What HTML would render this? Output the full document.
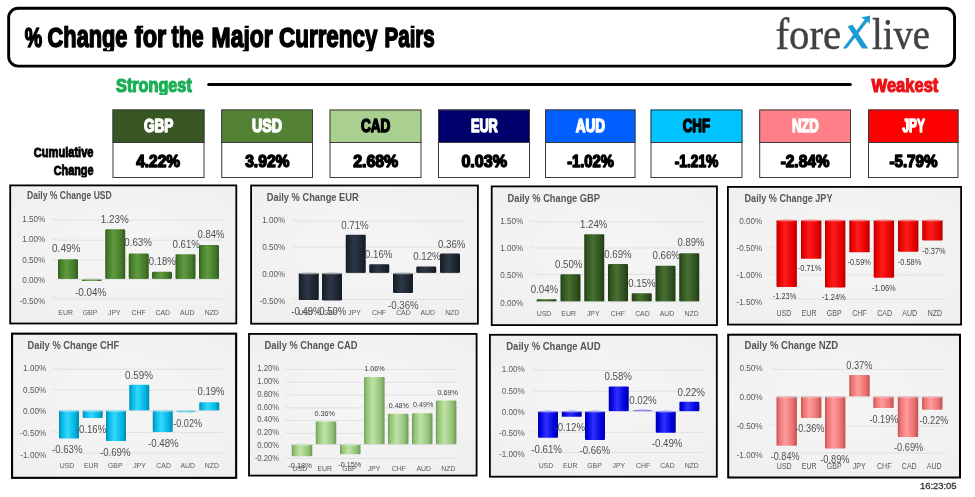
<!DOCTYPE html>
<html><head><meta charset="utf-8"><title>% Change for the Major Currency Pairs</title>
<style>html,body{margin:0;padding:0;background:#fff;}body{width:975px;height:497px;overflow:hidden;font-family:"Liberation Sans",sans-serif;}svg{display:block;}</style></head>
<body>
<svg width="975" height="497" viewBox="0 0 975 497">
<defs><linearGradient id="gUSD" x1="0" y1="0" x2="1" y2="0"><stop offset="0" stop-color="#2f5a1d"/><stop offset="0.12" stop-color="#447a2a"/><stop offset="0.42" stop-color="#5f9a3f"/><stop offset="0.8" stop-color="#447a2a"/><stop offset="1" stop-color="#2f5a1d"/></linearGradient><linearGradient id="gEUR" x1="0" y1="0" x2="1" y2="0"><stop offset="0" stop-color="#141a23"/><stop offset="0.12" stop-color="#1c2430"/><stop offset="0.42" stop-color="#2d3746"/><stop offset="0.8" stop-color="#1c2430"/><stop offset="1" stop-color="#141a23"/></linearGradient><linearGradient id="gGBP" x1="0" y1="0" x2="1" y2="0"><stop offset="0" stop-color="#1f3814"/><stop offset="0.12" stop-color="#2f5220"/><stop offset="0.42" stop-color="#47702f"/><stop offset="0.8" stop-color="#2f5220"/><stop offset="1" stop-color="#1f3814"/></linearGradient><linearGradient id="gJPY" x1="0" y1="0" x2="1" y2="0"><stop offset="0" stop-color="#b40000"/><stop offset="0.12" stop-color="#e60000"/><stop offset="0.42" stop-color="#ff1c1c"/><stop offset="0.8" stop-color="#e60000"/><stop offset="1" stop-color="#b40000"/></linearGradient><linearGradient id="gCHF" x1="0" y1="0" x2="1" y2="0"><stop offset="0" stop-color="#0089ad"/><stop offset="0.12" stop-color="#00b4e0"/><stop offset="0.42" stop-color="#35d8ff"/><stop offset="0.8" stop-color="#00b4e0"/><stop offset="1" stop-color="#0089ad"/></linearGradient><linearGradient id="gCAD" x1="0" y1="0" x2="1" y2="0"><stop offset="0" stop-color="#6e9a55"/><stop offset="0.12" stop-color="#93c277"/><stop offset="0.42" stop-color="#bfe3a6"/><stop offset="0.8" stop-color="#93c277"/><stop offset="1" stop-color="#6e9a55"/></linearGradient><linearGradient id="gAUD" x1="0" y1="0" x2="1" y2="0"><stop offset="0" stop-color="#0000a0"/><stop offset="0.12" stop-color="#0000e0"/><stop offset="0.42" stop-color="#3030ff"/><stop offset="0.8" stop-color="#0000e0"/><stop offset="1" stop-color="#0000a0"/></linearGradient><linearGradient id="gNZD" x1="0" y1="0" x2="1" y2="0"><stop offset="0" stop-color="#c05050"/><stop offset="0.12" stop-color="#ea7070"/><stop offset="0.42" stop-color="#ff9c9c"/><stop offset="0.8" stop-color="#ea7070"/><stop offset="1" stop-color="#c05050"/></linearGradient><radialGradient id="pbg" cx="0.5" cy="0.45" r="0.75"><stop offset="0" stop-color="#f5f5f5"/><stop offset="0.6" stop-color="#f2f2f2"/><stop offset="1" stop-color="#eeeeee"/></radialGradient><filter id="soft" x="0" y="0" width="975" height="497" filterUnits="userSpaceOnUse" color-interpolation-filters="sRGB"><feGaussianBlur stdDeviation="0.42"/></filter><clipPath id="ic1"><rect x="0" y="25.70" width="975" height="25.57"/></clipPath><clipPath id="ic2"><rect x="0" y="77.90" width="975" height="16.64"/></clipPath><clipPath id="ic3"><rect x="0" y="77.90" width="975" height="16.64"/></clipPath><clipPath id="ic4"><rect x="0" y="146.80" width="975" height="12.88"/></clipPath><clipPath id="ic5"><rect x="0" y="164.30" width="975" height="12.88"/></clipPath><clipPath id="ic6"><rect x="0" y="117.90" width="975" height="17.11"/></clipPath><clipPath id="ic7"><rect x="0" y="153.30" width="975" height="16.76"/></clipPath><clipPath id="ic8"><rect x="0" y="117.90" width="975" height="17.11"/></clipPath><clipPath id="ic9"><rect x="0" y="153.30" width="975" height="16.76"/></clipPath><clipPath id="ic10"><rect x="0" y="117.90" width="975" height="17.11"/></clipPath><clipPath id="ic11"><rect x="0" y="153.30" width="975" height="16.76"/></clipPath><clipPath id="ic12"><rect x="0" y="117.90" width="975" height="17.11"/></clipPath><clipPath id="ic13"><rect x="0" y="153.30" width="975" height="16.76"/></clipPath><clipPath id="ic14"><rect x="0" y="117.90" width="975" height="17.11"/></clipPath><clipPath id="ic15"><rect x="0" y="153.30" width="975" height="16.76"/></clipPath><clipPath id="ic16"><rect x="0" y="117.90" width="975" height="17.11"/></clipPath><clipPath id="ic17"><rect x="0" y="153.30" width="975" height="16.76"/></clipPath><clipPath id="ic18"><rect x="0" y="117.90" width="975" height="17.11"/></clipPath><clipPath id="ic19"><rect x="0" y="153.30" width="975" height="16.76"/></clipPath><clipPath id="ic20"><rect x="0" y="117.90" width="975" height="17.11"/></clipPath><clipPath id="ic21"><rect x="0" y="153.30" width="975" height="16.76"/></clipPath></defs>
<rect width="975" height="497" fill="#fff"/>
<g filter="url(#soft)">
<rect x="8.65" y="8.3" width="945.9" height="57.8" rx="9.5" ry="9.5" fill="#fff" stroke="#000" stroke-width="2.9"/>
<g clip-path="url(#ic1)">
<text x="24.80" y="46.80" font-family="Liberation Sans, sans-serif" font-weight="700" font-size="28.12" textLength="17.40" lengthAdjust="spacingAndGlyphs" fill="#000" stroke="#000" stroke-width="1.6" stroke-linejoin="round" paint-order="stroke">%</text>
<text x="47.60" y="46.80" font-family="Liberation Sans, sans-serif" font-weight="700" font-size="28.12" textLength="15.74" lengthAdjust="spacingAndGlyphs" fill="#000" stroke="#000" stroke-width="1.6" stroke-linejoin="round" paint-order="stroke">C</text>
<text x="63.34" y="46.80" font-family="Liberation Sans, sans-serif" font-weight="700" font-size="31.17" textLength="64.16" lengthAdjust="spacingAndGlyphs" fill="#000" stroke="#000" stroke-width="1.6" stroke-linejoin="round" paint-order="stroke">hange</text>
<text x="134.80" y="46.80" font-family="Liberation Sans, sans-serif" font-weight="700" font-size="31.17" textLength="31.50" lengthAdjust="spacingAndGlyphs" fill="#000" stroke="#000" stroke-width="1.6" stroke-linejoin="round" paint-order="stroke">for</text>
<text x="171.50" y="46.80" font-family="Liberation Sans, sans-serif" font-weight="700" font-size="31.17" textLength="32.10" lengthAdjust="spacingAndGlyphs" fill="#000" stroke="#000" stroke-width="1.6" stroke-linejoin="round" paint-order="stroke">the</text>
<text x="211.60" y="46.80" font-family="Liberation Sans, sans-serif" font-weight="700" font-size="28.12" textLength="19.08" lengthAdjust="spacingAndGlyphs" fill="#000" stroke="#000" stroke-width="1.6" stroke-linejoin="round" paint-order="stroke">M</text>
<text x="230.68" y="46.80" font-family="Liberation Sans, sans-serif" font-weight="700" font-size="31.17" textLength="42.02" lengthAdjust="spacingAndGlyphs" fill="#000" stroke="#000" stroke-width="1.6" stroke-linejoin="round" paint-order="stroke">ajor</text>
<text x="279.10" y="46.80" font-family="Liberation Sans, sans-serif" font-weight="700" font-size="28.12" textLength="16.17" lengthAdjust="spacingAndGlyphs" fill="#000" stroke="#000" stroke-width="1.6" stroke-linejoin="round" paint-order="stroke">C</text>
<text x="295.27" y="46.80" font-family="Liberation Sans, sans-serif" font-weight="700" font-size="31.17" textLength="82.13" lengthAdjust="spacingAndGlyphs" fill="#000" stroke="#000" stroke-width="1.6" stroke-linejoin="round" paint-order="stroke">urrency</text>
<text x="384.50" y="46.80" font-family="Liberation Sans, sans-serif" font-weight="700" font-size="28.12" textLength="13.72" lengthAdjust="spacingAndGlyphs" fill="#000" stroke="#000" stroke-width="1.6" stroke-linejoin="round" paint-order="stroke">P</text>
<text x="398.22" y="46.80" font-family="Liberation Sans, sans-serif" font-weight="700" font-size="31.17" textLength="36.58" lengthAdjust="spacingAndGlyphs" fill="#000" stroke="#000" stroke-width="1.6" stroke-linejoin="round" paint-order="stroke">airs</text>
</g>
<text x="775.40" y="48.80" font-family="Liberation Serif, serif" font-size="44.60" textLength="65.80" lengthAdjust="spacingAndGlyphs" fill="#414042" stroke="#414042" stroke-width="0.45" stroke-linejoin="round" paint-order="stroke">fore</text>
<text x="872.00" y="48.80" font-family="Liberation Serif, serif" font-size="44.60" textLength="58.00" lengthAdjust="spacingAndGlyphs" fill="#414042" stroke="#414042" stroke-width="0.45" stroke-linejoin="round" paint-order="stroke">live</text>
<g fill="#1b9ad6" stroke="none"><path d="M847.6 26.2 L852.6 24.8 L868.2 48.6 L862.0 48.6 Z"/><path d="M842.8 48.6 L846.6 48.6 L868.3 20.6 L865.6 18.4 Z"/><path d="M861.0 17.6 L870.2 15.6 L869.6 24.2 L866.6 20.6 Z"/></g>
<g clip-path="url(#ic2)">
<text x="116.10" y="91.60" font-family="Liberation Sans, sans-serif" font-weight="700" font-size="17.68" textLength="10.82" lengthAdjust="spacingAndGlyphs" fill="#1aaf54" stroke="#1aaf54" stroke-width="1.2" stroke-linejoin="round" paint-order="stroke">S</text>
<text x="126.92" y="91.60" font-family="Liberation Sans, sans-serif" font-weight="700" font-size="19.55" textLength="64.88" lengthAdjust="spacingAndGlyphs" fill="#1aaf54" stroke="#1aaf54" stroke-width="1.2" stroke-linejoin="round" paint-order="stroke">trongest</text>
</g>
<g clip-path="url(#ic3)">
<text x="871.40" y="91.60" font-family="Liberation Sans, sans-serif" font-weight="700" font-size="17.68" textLength="15.56" lengthAdjust="spacingAndGlyphs" fill="#ec1218" stroke="#ec1218" stroke-width="1.2" stroke-linejoin="round" paint-order="stroke">W</text>
<text x="886.96" y="91.60" font-family="Liberation Sans, sans-serif" font-weight="700" font-size="19.55" textLength="51.34" lengthAdjust="spacingAndGlyphs" fill="#ec1218" stroke="#ec1218" stroke-width="1.2" stroke-linejoin="round" paint-order="stroke">eakest</text>
</g>
<rect x="207.2" y="82.9" width="644.6" height="3.0" rx="1.5" fill="#000"/>
<g clip-path="url(#ic4)">
<text x="33.75" y="157.40" font-family="Liberation Sans, sans-serif" font-weight="700" font-size="13.33" textLength="8.01" lengthAdjust="spacingAndGlyphs" fill="#000" stroke="#000" stroke-width="1.0" stroke-linejoin="round" paint-order="stroke">C</text>
<text x="41.76" y="157.40" font-family="Liberation Sans, sans-serif" font-weight="700" font-size="14.72" textLength="51.74" lengthAdjust="spacingAndGlyphs" fill="#000" stroke="#000" stroke-width="1.0" stroke-linejoin="round" paint-order="stroke">umulative</text>
</g>
<g clip-path="url(#ic5)">
<text x="53.75" y="174.90" font-family="Liberation Sans, sans-serif" font-weight="700" font-size="13.33" textLength="7.83" lengthAdjust="spacingAndGlyphs" fill="#000" stroke="#000" stroke-width="1.0" stroke-linejoin="round" paint-order="stroke">C</text>
<text x="61.58" y="174.90" font-family="Liberation Sans, sans-serif" font-weight="700" font-size="14.72" textLength="31.92" lengthAdjust="spacingAndGlyphs" fill="#000" stroke="#000" stroke-width="1.0" stroke-linejoin="round" paint-order="stroke">hange</text>
</g>
<rect x="112.50" y="109.5" width="92.00" height="68.5" fill="#fff"/>
<rect x="112.50" y="109.5" width="92.00" height="33" fill="#375623"/>
<rect x="113.00" y="110" width="91.00" height="67.5" fill="none" stroke="#3a3a3a" stroke-width="1"/>
<rect x="112.50" y="142" width="92.00" height="1" fill="#3a3a3a"/>
<g clip-path="url(#ic6)">
<text x="143.90" y="131.85" font-family="Liberation Sans, sans-serif" font-weight="700" font-size="17.83" textLength="29.40" lengthAdjust="spacingAndGlyphs" fill="#fff" stroke="#fff" stroke-width="1.5" stroke-linejoin="round" paint-order="stroke">GBP</text>
</g>
<g clip-path="url(#ic7)">
<text x="136.15" y="166.95" font-family="Liberation Sans, sans-serif" font-weight="700" font-size="17.39" textLength="43.90" lengthAdjust="spacingAndGlyphs" fill="#000" stroke="#000" stroke-width="1.5" stroke-linejoin="round" paint-order="stroke">4.22%</text>
</g>
<rect x="221.25" y="109.5" width="91.75" height="68.5" fill="#fff"/>
<rect x="221.25" y="109.5" width="91.75" height="33" fill="#548235"/>
<rect x="221.75" y="110" width="90.75" height="67.5" fill="none" stroke="#3a3a3a" stroke-width="1"/>
<rect x="221.25" y="142" width="91.75" height="1" fill="#3a3a3a"/>
<g clip-path="url(#ic8)">
<text x="251.90" y="131.85" font-family="Liberation Sans, sans-serif" font-weight="700" font-size="17.83" textLength="30.15" lengthAdjust="spacingAndGlyphs" fill="#fff" stroke="#fff" stroke-width="1.5" stroke-linejoin="round" paint-order="stroke">USD</text>
</g>
<g clip-path="url(#ic9)">
<text x="245.15" y="166.95" font-family="Liberation Sans, sans-serif" font-weight="700" font-size="17.39" textLength="44.40" lengthAdjust="spacingAndGlyphs" fill="#000" stroke="#000" stroke-width="1.5" stroke-linejoin="round" paint-order="stroke">3.92%</text>
</g>
<rect x="329.50" y="109.5" width="92.00" height="68.5" fill="#fff"/>
<rect x="329.50" y="109.5" width="92.00" height="33" fill="#a9d08e"/>
<rect x="330.00" y="110" width="91.00" height="67.5" fill="none" stroke="#3a3a3a" stroke-width="1"/>
<rect x="329.50" y="142" width="92.00" height="1" fill="#3a3a3a"/>
<g clip-path="url(#ic10)">
<text x="360.90" y="131.85" font-family="Liberation Sans, sans-serif" font-weight="700" font-size="17.83" textLength="29.40" lengthAdjust="spacingAndGlyphs" fill="#000" stroke="#000" stroke-width="1.5" stroke-linejoin="round" paint-order="stroke">CAD</text>
</g>
<g clip-path="url(#ic11)">
<text x="353.15" y="166.95" font-family="Liberation Sans, sans-serif" font-weight="700" font-size="17.39" textLength="45.15" lengthAdjust="spacingAndGlyphs" fill="#000" stroke="#000" stroke-width="1.5" stroke-linejoin="round" paint-order="stroke">2.68%</text>
</g>
<rect x="438.00" y="109.5" width="92.00" height="68.5" fill="#fff"/>
<rect x="438.00" y="109.5" width="92.00" height="33" fill="#00006c"/>
<rect x="438.50" y="110" width="91.00" height="67.5" fill="none" stroke="#3a3a3a" stroke-width="1"/>
<rect x="438.00" y="142" width="92.00" height="1" fill="#3a3a3a"/>
<g clip-path="url(#ic12)">
<text x="470.90" y="131.85" font-family="Liberation Sans, sans-serif" font-weight="700" font-size="17.83" textLength="26.90" lengthAdjust="spacingAndGlyphs" fill="#fff" stroke="#fff" stroke-width="1.5" stroke-linejoin="round" paint-order="stroke">EUR</text>
</g>
<g clip-path="url(#ic13)">
<text x="461.40" y="166.95" font-family="Liberation Sans, sans-serif" font-weight="700" font-size="17.39" textLength="45.65" lengthAdjust="spacingAndGlyphs" fill="#000" stroke="#000" stroke-width="1.5" stroke-linejoin="round" paint-order="stroke">0.03%</text>
</g>
<rect x="545.00" y="109.5" width="90.50" height="68.5" fill="#fff"/>
<rect x="545.00" y="109.5" width="90.50" height="33" fill="#0060ff"/>
<rect x="545.50" y="110" width="89.50" height="67.5" fill="none" stroke="#3a3a3a" stroke-width="1"/>
<rect x="545.00" y="142" width="90.50" height="1" fill="#3a3a3a"/>
<g clip-path="url(#ic14)">
<text x="575.65" y="131.85" font-family="Liberation Sans, sans-serif" font-weight="700" font-size="17.83" textLength="29.40" lengthAdjust="spacingAndGlyphs" fill="#fff" stroke="#fff" stroke-width="1.5" stroke-linejoin="round" paint-order="stroke">AUD</text>
</g>
<g clip-path="url(#ic15)">
<text x="567.15" y="166.95" font-family="Liberation Sans, sans-serif" font-weight="700" font-size="17.39" textLength="46.65" lengthAdjust="spacingAndGlyphs" fill="#000" stroke="#000" stroke-width="1.5" stroke-linejoin="round" paint-order="stroke">-1.02%</text>
</g>
<rect x="650.50" y="109.5" width="92.00" height="68.5" fill="#fff"/>
<rect x="650.50" y="109.5" width="92.00" height="33" fill="#00c4ff"/>
<rect x="651.00" y="110" width="91.00" height="67.5" fill="none" stroke="#3a3a3a" stroke-width="1"/>
<rect x="650.50" y="142" width="92.00" height="1" fill="#3a3a3a"/>
<g clip-path="url(#ic16)">
<text x="682.65" y="131.85" font-family="Liberation Sans, sans-serif" font-weight="700" font-size="17.83" textLength="27.40" lengthAdjust="spacingAndGlyphs" fill="#000" stroke="#000" stroke-width="1.5" stroke-linejoin="round" paint-order="stroke">CHF</text>
</g>
<g clip-path="url(#ic17)">
<text x="674.65" y="166.95" font-family="Liberation Sans, sans-serif" font-weight="700" font-size="17.39" textLength="43.65" lengthAdjust="spacingAndGlyphs" fill="#000" stroke="#000" stroke-width="1.5" stroke-linejoin="round" paint-order="stroke">-1.21%</text>
</g>
<rect x="759.20" y="109.5" width="91.80" height="68.5" fill="#fff"/>
<rect x="759.20" y="109.5" width="91.80" height="33" fill="#ff8088"/>
<rect x="759.70" y="110" width="90.80" height="67.5" fill="none" stroke="#3a3a3a" stroke-width="1"/>
<rect x="759.20" y="142" width="91.80" height="1" fill="#3a3a3a"/>
<g clip-path="url(#ic18)">
<text x="791.90" y="131.85" font-family="Liberation Sans, sans-serif" font-weight="700" font-size="17.83" textLength="26.90" lengthAdjust="spacingAndGlyphs" fill="#fff" stroke="#fff" stroke-width="1.5" stroke-linejoin="round" paint-order="stroke">NZD</text>
</g>
<g clip-path="url(#ic19)">
<text x="780.65" y="166.95" font-family="Liberation Sans, sans-serif" font-weight="700" font-size="17.39" textLength="48.90" lengthAdjust="spacingAndGlyphs" fill="#000" stroke="#000" stroke-width="1.5" stroke-linejoin="round" paint-order="stroke">-2.84%</text>
</g>
<rect x="868.00" y="109.5" width="90.50" height="68.5" fill="#fff"/>
<rect x="868.00" y="109.5" width="90.50" height="33" fill="#ff0000"/>
<rect x="868.50" y="110" width="89.50" height="67.5" fill="none" stroke="#3a3a3a" stroke-width="1"/>
<rect x="868.00" y="142" width="90.50" height="1" fill="#3a3a3a"/>
<g clip-path="url(#ic20)">
<text x="902.40" y="131.85" font-family="Liberation Sans, sans-serif" font-weight="700" font-size="17.83" textLength="22.40" lengthAdjust="spacingAndGlyphs" fill="#fff" stroke="#fff" stroke-width="1.5" stroke-linejoin="round" paint-order="stroke">JPY</text>
</g>
<g clip-path="url(#ic21)">
<text x="889.40" y="166.95" font-family="Liberation Sans, sans-serif" font-weight="700" font-size="17.39" textLength="48.15" lengthAdjust="spacingAndGlyphs" fill="#000" stroke="#000" stroke-width="1.5" stroke-linejoin="round" paint-order="stroke">-5.79%</text>
</g>
<rect x="10.20" y="185.40" width="226.10" height="138.10" fill="url(#pbg)" stroke="#000" stroke-width="1.8"/>
<text x="27.00" y="199.30" font-family="Liberation Sans, sans-serif" font-size="10.58" font-weight="700" textLength="84.75" lengthAdjust="spacingAndGlyphs" fill="#555555">Daily % Change USD</text>
<path d="M52.0 218.40 L57.0 220.00 L222.0 220.00" fill="none" stroke="#dfdfdf" stroke-width="0.9"/>
<path d="M52.0 238.60 L57.0 240.20 L222.0 240.20" fill="none" stroke="#dfdfdf" stroke-width="0.9"/>
<path d="M52.0 258.60 L57.0 260.20 L222.0 260.20" fill="none" stroke="#dfdfdf" stroke-width="0.9"/>
<path d="M52.0 297.15 L57.0 298.75 L222.0 298.75" fill="none" stroke="#dfdfdf" stroke-width="0.9"/>
<text x="45.20" y="221.82" font-family="Liberation Sans, sans-serif" font-size="8.90" text-anchor="end" textLength="22.96" lengthAdjust="spacingAndGlyphs" fill="#595959">1.50%</text>
<text x="45.20" y="242.32" font-family="Liberation Sans, sans-serif" font-size="8.90" text-anchor="end" textLength="22.96" lengthAdjust="spacingAndGlyphs" fill="#595959">1.00%</text>
<text x="45.20" y="262.57" font-family="Liberation Sans, sans-serif" font-size="8.90" text-anchor="end" textLength="22.96" lengthAdjust="spacingAndGlyphs" fill="#595959">0.50%</text>
<text x="45.20" y="282.82" font-family="Liberation Sans, sans-serif" font-size="8.90" text-anchor="end" textLength="22.96" lengthAdjust="spacingAndGlyphs" fill="#595959">0.00%</text>
<text x="45.20" y="303.57" font-family="Liberation Sans, sans-serif" font-size="8.90" text-anchor="end" textLength="25.66" lengthAdjust="spacingAndGlyphs" fill="#595959">-0.50%</text>
<rect x="58.00" y="259.20" width="20.00" height="19.80" rx="1.2" ry="1.2" fill="url(#gUSD)"/>
<rect x="81.75" y="279.00" width="20.00" height="2.12" rx="1.2" ry="1.2" fill="url(#gUSD)"/>
<ellipse cx="91.75" cy="279.50" rx="9.70" ry="1.1" fill="#9ab889" opacity="0.75"/>
<rect x="105.25" y="229.31" width="20.00" height="49.69" rx="1.2" ry="1.2" fill="url(#gUSD)"/>
<rect x="128.75" y="253.55" width="20.00" height="25.45" rx="1.2" ry="1.2" fill="url(#gUSD)"/>
<rect x="152.00" y="271.73" width="20.00" height="7.27" rx="1.2" ry="1.2" fill="url(#gUSD)"/>
<rect x="175.50" y="254.36" width="20.00" height="24.64" rx="1.2" ry="1.2" fill="url(#gUSD)"/>
<rect x="199.00" y="245.06" width="20.00" height="33.94" rx="1.2" ry="1.2" fill="url(#gUSD)"/>
<path d="M57.0 279.30 L222.0 279.30" fill="none" stroke="#cfcfcf" stroke-width="0.8" opacity="0.7"/>
<text x="65.60" y="314.54" font-family="Liberation Sans, sans-serif" font-size="8.10" text-anchor="middle" textLength="14.54" lengthAdjust="spacingAndGlyphs" fill="#595959">EUR</text>
<text x="90.00" y="314.54" font-family="Liberation Sans, sans-serif" font-size="8.10" text-anchor="middle" textLength="14.54" lengthAdjust="spacingAndGlyphs" fill="#595959">GBP</text>
<text x="114.40" y="314.54" font-family="Liberation Sans, sans-serif" font-size="8.10" text-anchor="middle" textLength="12.63" lengthAdjust="spacingAndGlyphs" fill="#595959">JPY</text>
<text x="138.60" y="314.54" font-family="Liberation Sans, sans-serif" font-size="8.10" text-anchor="middle" textLength="14.15" lengthAdjust="spacingAndGlyphs" fill="#595959">CHF</text>
<text x="162.75" y="314.54" font-family="Liberation Sans, sans-serif" font-size="8.10" text-anchor="middle" textLength="14.54" lengthAdjust="spacingAndGlyphs" fill="#595959">CAD</text>
<text x="187.25" y="314.54" font-family="Liberation Sans, sans-serif" font-size="8.10" text-anchor="middle" textLength="14.54" lengthAdjust="spacingAndGlyphs" fill="#595959">AUD</text>
<text x="211.75" y="314.54" font-family="Liberation Sans, sans-serif" font-size="8.10" text-anchor="middle" textLength="14.15" lengthAdjust="spacingAndGlyphs" fill="#595959">NZD</text>
<text x="52.00" y="252.01" font-family="Liberation Sans, sans-serif" font-size="10.90" textLength="28.50" lengthAdjust="spacingAndGlyphs" fill="#505050">0.49%</text>
<text x="75.00" y="296.26" font-family="Liberation Sans, sans-serif" font-size="10.90" textLength="31.25" lengthAdjust="spacingAndGlyphs" fill="#505050">-0.04%</text>
<text x="100.75" y="222.51" font-family="Liberation Sans, sans-serif" font-size="10.90" textLength="28.00" lengthAdjust="spacingAndGlyphs" fill="#505050">1.23%</text>
<text x="124.25" y="246.26" font-family="Liberation Sans, sans-serif" font-size="10.90" textLength="27.75" lengthAdjust="spacingAndGlyphs" fill="#505050">0.63%</text>
<text x="148.75" y="265.01" font-family="Liberation Sans, sans-serif" font-size="10.90" textLength="27.00" lengthAdjust="spacingAndGlyphs" fill="#505050">0.18%</text>
<text x="172.50" y="247.51" font-family="Liberation Sans, sans-serif" font-size="10.90" textLength="27.50" lengthAdjust="spacingAndGlyphs" fill="#505050">0.61%</text>
<text x="197.50" y="238.26" font-family="Liberation Sans, sans-serif" font-size="10.90" textLength="27.00" lengthAdjust="spacingAndGlyphs" fill="#505050">0.84%</text>
<rect x="251.10" y="185.50" width="226.80" height="138.20" fill="url(#pbg)" stroke="#000" stroke-width="1.8"/>
<text x="266.75" y="200.75" font-family="Liberation Sans, sans-serif" font-size="10.87" font-weight="700" textLength="92.00" lengthAdjust="spacingAndGlyphs" fill="#555555">Daily % Change EUR</text>
<path d="M292.0 219.65 L297.0 221.25 L463.0 221.25" fill="none" stroke="#dfdfdf" stroke-width="0.9"/>
<path d="M292.0 245.40 L297.0 247.00 L463.0 247.00" fill="none" stroke="#dfdfdf" stroke-width="0.9"/>
<path d="M292.0 297.90 L297.0 299.50 L463.0 299.50" fill="none" stroke="#dfdfdf" stroke-width="0.9"/>
<text x="285.20" y="222.57" font-family="Liberation Sans, sans-serif" font-size="8.90" text-anchor="end" textLength="22.96" lengthAdjust="spacingAndGlyphs" fill="#595959">1.00%</text>
<text x="285.20" y="250.07" font-family="Liberation Sans, sans-serif" font-size="8.90" text-anchor="end" textLength="22.96" lengthAdjust="spacingAndGlyphs" fill="#595959">0.50%</text>
<text x="285.20" y="277.32" font-family="Liberation Sans, sans-serif" font-size="8.90" text-anchor="end" textLength="22.96" lengthAdjust="spacingAndGlyphs" fill="#595959">0.00%</text>
<text x="285.20" y="303.57" font-family="Liberation Sans, sans-serif" font-size="8.90" text-anchor="end" textLength="25.66" lengthAdjust="spacingAndGlyphs" fill="#595959">-0.50%</text>
<rect x="298.75" y="273.00" width="20.00" height="26.96" rx="1.2" ry="1.2" fill="url(#gEUR)"/>
<ellipse cx="308.75" cy="273.50" rx="9.70" ry="1.1" fill="#8b9099" opacity="0.75"/>
<rect x="322.00" y="273.00" width="20.00" height="27.50" rx="1.2" ry="1.2" fill="url(#gEUR)"/>
<ellipse cx="332.00" cy="273.50" rx="9.70" ry="1.1" fill="#8b9099" opacity="0.75"/>
<rect x="345.75" y="234.66" width="20.00" height="38.34" rx="1.2" ry="1.2" fill="url(#gEUR)"/>
<rect x="369.25" y="264.36" width="20.00" height="8.64" rx="1.2" ry="1.2" fill="url(#gEUR)"/>
<rect x="393.00" y="273.00" width="20.00" height="19.94" rx="1.2" ry="1.2" fill="url(#gEUR)"/>
<ellipse cx="403.00" cy="273.50" rx="9.70" ry="1.1" fill="#8b9099" opacity="0.75"/>
<rect x="416.25" y="266.52" width="20.00" height="6.48" rx="1.2" ry="1.2" fill="url(#gEUR)"/>
<rect x="440.00" y="253.56" width="20.00" height="19.44" rx="1.2" ry="1.2" fill="url(#gEUR)"/>
<path d="M297.0 273.30 L463.0 273.30" fill="none" stroke="#cfcfcf" stroke-width="0.8" opacity="0.7"/>
<text x="305.80" y="314.54" font-family="Liberation Sans, sans-serif" font-size="8.10" text-anchor="middle" textLength="14.54" lengthAdjust="spacingAndGlyphs" fill="#595959">USD</text>
<text x="330.20" y="314.54" font-family="Liberation Sans, sans-serif" font-size="8.10" text-anchor="middle" textLength="14.54" lengthAdjust="spacingAndGlyphs" fill="#595959">GBP</text>
<text x="354.60" y="314.54" font-family="Liberation Sans, sans-serif" font-size="8.10" text-anchor="middle" textLength="12.63" lengthAdjust="spacingAndGlyphs" fill="#595959">JPY</text>
<text x="379.00" y="314.54" font-family="Liberation Sans, sans-serif" font-size="8.10" text-anchor="middle" textLength="14.15" lengthAdjust="spacingAndGlyphs" fill="#595959">CHF</text>
<text x="403.40" y="314.54" font-family="Liberation Sans, sans-serif" font-size="8.10" text-anchor="middle" textLength="14.54" lengthAdjust="spacingAndGlyphs" fill="#595959">CAD</text>
<text x="427.80" y="314.54" font-family="Liberation Sans, sans-serif" font-size="8.10" text-anchor="middle" textLength="14.54" lengthAdjust="spacingAndGlyphs" fill="#595959">AUD</text>
<text x="452.20" y="314.54" font-family="Liberation Sans, sans-serif" font-size="8.10" text-anchor="middle" textLength="14.15" lengthAdjust="spacingAndGlyphs" fill="#595959">NZD</text>
<text x="291.25" y="315.26" font-family="Liberation Sans, sans-serif" font-size="10.90" textLength="30.25" lengthAdjust="spacingAndGlyphs" fill="#505050">-0.49%</text>
<text x="316.00" y="315.26" font-family="Liberation Sans, sans-serif" font-size="10.90" textLength="30.25" lengthAdjust="spacingAndGlyphs" fill="#505050">-0.50%</text>
<text x="341.25" y="228.76" font-family="Liberation Sans, sans-serif" font-size="10.90" textLength="27.50" lengthAdjust="spacingAndGlyphs" fill="#505050">0.71%</text>
<text x="365.00" y="258.01" font-family="Liberation Sans, sans-serif" font-size="10.90" textLength="27.50" lengthAdjust="spacingAndGlyphs" fill="#505050">0.16%</text>
<text x="388.00" y="308.76" font-family="Liberation Sans, sans-serif" font-size="10.90" textLength="30.75" lengthAdjust="spacingAndGlyphs" fill="#505050">-0.36%</text>
<text x="413.25" y="259.51" font-family="Liberation Sans, sans-serif" font-size="10.90" textLength="27.50" lengthAdjust="spacingAndGlyphs" fill="#505050">0.12%</text>
<text x="438.00" y="247.51" font-family="Liberation Sans, sans-serif" font-size="10.90" textLength="27.50" lengthAdjust="spacingAndGlyphs" fill="#505050">0.36%</text>
<rect x="491.70" y="186.40" width="225.25" height="138.70" fill="url(#pbg)" stroke="#000" stroke-width="1.8"/>
<text x="507.50" y="201.75" font-family="Liberation Sans, sans-serif" font-size="10.87" font-weight="700" textLength="92.50" lengthAdjust="spacingAndGlyphs" fill="#555555">Daily % Change GBP</text>
<path d="M530.0 220.40 L535.0 222.00 L702.0 222.00" fill="none" stroke="#dfdfdf" stroke-width="0.9"/>
<path d="M530.0 246.40 L535.0 248.00 L702.0 248.00" fill="none" stroke="#dfdfdf" stroke-width="0.9"/>
<path d="M530.0 272.90 L535.0 274.50 L702.0 274.50" fill="none" stroke="#dfdfdf" stroke-width="0.9"/>
<text x="523.20" y="223.57" font-family="Liberation Sans, sans-serif" font-size="8.90" text-anchor="end" textLength="22.96" lengthAdjust="spacingAndGlyphs" fill="#595959">1.50%</text>
<text x="523.20" y="251.07" font-family="Liberation Sans, sans-serif" font-size="8.90" text-anchor="end" textLength="22.96" lengthAdjust="spacingAndGlyphs" fill="#595959">1.00%</text>
<text x="523.20" y="278.07" font-family="Liberation Sans, sans-serif" font-size="8.90" text-anchor="end" textLength="22.96" lengthAdjust="spacingAndGlyphs" fill="#595959">0.50%</text>
<text x="523.20" y="305.57" font-family="Liberation Sans, sans-serif" font-size="8.90" text-anchor="end" textLength="22.96" lengthAdjust="spacingAndGlyphs" fill="#595959">0.00%</text>
<rect x="536.60" y="299.33" width="20.00" height="2.17" rx="1.2" ry="1.2" fill="url(#gGBP)"/>
<rect x="560.50" y="274.35" width="20.00" height="27.15" rx="1.2" ry="1.2" fill="url(#gGBP)"/>
<rect x="584.25" y="234.17" width="20.00" height="67.33" rx="1.2" ry="1.2" fill="url(#gGBP)"/>
<rect x="608.00" y="264.03" width="20.00" height="37.47" rx="1.2" ry="1.2" fill="url(#gGBP)"/>
<rect x="631.75" y="293.36" width="20.00" height="8.14" rx="1.2" ry="1.2" fill="url(#gGBP)"/>
<rect x="655.50" y="265.66" width="20.00" height="35.84" rx="1.2" ry="1.2" fill="url(#gGBP)"/>
<rect x="679.25" y="253.17" width="20.00" height="48.33" rx="1.2" ry="1.2" fill="url(#gGBP)"/>
<path d="M535.0 301.80 L702.0 301.80" fill="none" stroke="#cfcfcf" stroke-width="0.8" opacity="0.7"/>
<text x="544.00" y="316.04" font-family="Liberation Sans, sans-serif" font-size="8.10" text-anchor="middle" textLength="14.54" lengthAdjust="spacingAndGlyphs" fill="#595959">USD</text>
<text x="568.60" y="316.04" font-family="Liberation Sans, sans-serif" font-size="8.10" text-anchor="middle" textLength="14.54" lengthAdjust="spacingAndGlyphs" fill="#595959">EUR</text>
<text x="593.20" y="316.04" font-family="Liberation Sans, sans-serif" font-size="8.10" text-anchor="middle" textLength="12.63" lengthAdjust="spacingAndGlyphs" fill="#595959">JPY</text>
<text x="617.80" y="316.04" font-family="Liberation Sans, sans-serif" font-size="8.10" text-anchor="middle" textLength="14.15" lengthAdjust="spacingAndGlyphs" fill="#595959">CHF</text>
<text x="642.40" y="316.04" font-family="Liberation Sans, sans-serif" font-size="8.10" text-anchor="middle" textLength="14.54" lengthAdjust="spacingAndGlyphs" fill="#595959">CAD</text>
<text x="667.00" y="316.04" font-family="Liberation Sans, sans-serif" font-size="8.10" text-anchor="middle" textLength="14.54" lengthAdjust="spacingAndGlyphs" fill="#595959">AUD</text>
<text x="691.60" y="316.04" font-family="Liberation Sans, sans-serif" font-size="8.10" text-anchor="middle" textLength="14.15" lengthAdjust="spacingAndGlyphs" fill="#595959">NZD</text>
<text x="530.75" y="293.01" font-family="Liberation Sans, sans-serif" font-size="10.90" textLength="27.50" lengthAdjust="spacingAndGlyphs" fill="#505050">0.04%</text>
<text x="555.00" y="268.01" font-family="Liberation Sans, sans-serif" font-size="10.90" textLength="27.50" lengthAdjust="spacingAndGlyphs" fill="#505050">0.50%</text>
<text x="580.00" y="228.26" font-family="Liberation Sans, sans-serif" font-size="10.90" textLength="27.50" lengthAdjust="spacingAndGlyphs" fill="#505050">1.24%</text>
<text x="604.25" y="257.51" font-family="Liberation Sans, sans-serif" font-size="10.90" textLength="27.50" lengthAdjust="spacingAndGlyphs" fill="#505050">0.69%</text>
<text x="628.25" y="286.76" font-family="Liberation Sans, sans-serif" font-size="10.90" textLength="27.50" lengthAdjust="spacingAndGlyphs" fill="#505050">0.15%</text>
<text x="652.50" y="258.76" font-family="Liberation Sans, sans-serif" font-size="10.90" textLength="27.50" lengthAdjust="spacingAndGlyphs" fill="#505050">0.66%</text>
<text x="677.50" y="246.26" font-family="Liberation Sans, sans-serif" font-size="10.90" textLength="27.00" lengthAdjust="spacingAndGlyphs" fill="#505050">0.89%</text>
<rect x="727.90" y="186.90" width="233.20" height="137.70" fill="url(#pbg)" stroke="#000" stroke-width="1.8"/>
<text x="744.50" y="201.75" font-family="Liberation Sans, sans-serif" font-size="10.87" font-weight="700" textLength="88.00" lengthAdjust="spacingAndGlyphs" fill="#555555">Daily % Change JPY</text>
<path d="M770.0 246.40 L775.0 248.00 L945.0 248.00" fill="none" stroke="#dfdfdf" stroke-width="0.9"/>
<path d="M770.0 273.40 L775.0 275.00 L945.0 275.00" fill="none" stroke="#dfdfdf" stroke-width="0.9"/>
<path d="M770.0 297.65 L775.0 299.25 L945.0 299.25" fill="none" stroke="#dfdfdf" stroke-width="0.9"/>
<text x="762.20" y="223.57" font-family="Liberation Sans, sans-serif" font-size="8.90" text-anchor="end" textLength="22.96" lengthAdjust="spacingAndGlyphs" fill="#595959">0.00%</text>
<text x="762.20" y="251.07" font-family="Liberation Sans, sans-serif" font-size="8.90" text-anchor="end" textLength="25.66" lengthAdjust="spacingAndGlyphs" fill="#595959">-0.50%</text>
<text x="762.20" y="278.07" font-family="Liberation Sans, sans-serif" font-size="8.90" text-anchor="end" textLength="25.66" lengthAdjust="spacingAndGlyphs" fill="#595959">-1.00%</text>
<text x="762.20" y="305.07" font-family="Liberation Sans, sans-serif" font-size="8.90" text-anchor="end" textLength="25.66" lengthAdjust="spacingAndGlyphs" fill="#595959">-1.50%</text>
<rect x="776.50" y="220.00" width="20.40" height="66.92" rx="1.2" ry="1.2" fill="url(#gJPY)"/>
<ellipse cx="786.70" cy="220.50" rx="9.90" ry="1.1" fill="#ff5a5a" opacity="0.75"/>
<rect x="801.00" y="220.00" width="20.40" height="38.84" rx="1.2" ry="1.2" fill="url(#gJPY)"/>
<ellipse cx="811.20" cy="220.50" rx="9.90" ry="1.1" fill="#ff5a5a" opacity="0.75"/>
<rect x="825.00" y="220.00" width="20.40" height="67.46" rx="1.2" ry="1.2" fill="url(#gJPY)"/>
<ellipse cx="835.20" cy="220.50" rx="9.90" ry="1.1" fill="#ff5a5a" opacity="0.75"/>
<rect x="849.30" y="220.00" width="20.40" height="32.36" rx="1.2" ry="1.2" fill="url(#gJPY)"/>
<ellipse cx="859.50" cy="220.50" rx="9.90" ry="1.1" fill="#ff5a5a" opacity="0.75"/>
<rect x="873.70" y="220.00" width="20.40" height="57.74" rx="1.2" ry="1.2" fill="url(#gJPY)"/>
<ellipse cx="883.90" cy="220.50" rx="9.90" ry="1.1" fill="#ff5a5a" opacity="0.75"/>
<rect x="898.00" y="220.00" width="20.40" height="31.82" rx="1.2" ry="1.2" fill="url(#gJPY)"/>
<ellipse cx="908.20" cy="220.50" rx="9.90" ry="1.1" fill="#ff5a5a" opacity="0.75"/>
<rect x="922.20" y="220.00" width="20.40" height="20.48" rx="1.2" ry="1.2" fill="url(#gJPY)"/>
<ellipse cx="932.40" cy="220.50" rx="9.90" ry="1.1" fill="#ff5a5a" opacity="0.75"/>
<path d="M775.0 220.30 L945.0 220.30" fill="none" stroke="#cfcfcf" stroke-width="0.8" opacity="0.7"/>
<text x="783.90" y="315.86" font-family="Liberation Sans, sans-serif" font-size="8.30" text-anchor="middle" textLength="14.90" lengthAdjust="spacingAndGlyphs" fill="#595959">USD</text>
<text x="809.07" y="315.86" font-family="Liberation Sans, sans-serif" font-size="8.30" text-anchor="middle" textLength="14.90" lengthAdjust="spacingAndGlyphs" fill="#595959">EUR</text>
<text x="834.24" y="315.86" font-family="Liberation Sans, sans-serif" font-size="8.30" text-anchor="middle" textLength="14.90" lengthAdjust="spacingAndGlyphs" fill="#595959">GBP</text>
<text x="859.41" y="315.86" font-family="Liberation Sans, sans-serif" font-size="8.30" text-anchor="middle" textLength="14.50" lengthAdjust="spacingAndGlyphs" fill="#595959">CHF</text>
<text x="884.58" y="315.86" font-family="Liberation Sans, sans-serif" font-size="8.30" text-anchor="middle" textLength="14.90" lengthAdjust="spacingAndGlyphs" fill="#595959">CAD</text>
<text x="909.75" y="315.86" font-family="Liberation Sans, sans-serif" font-size="8.30" text-anchor="middle" textLength="14.90" lengthAdjust="spacingAndGlyphs" fill="#595959">AUD</text>
<text x="934.92" y="315.86" font-family="Liberation Sans, sans-serif" font-size="8.30" text-anchor="middle" textLength="14.50" lengthAdjust="spacingAndGlyphs" fill="#595959">NZD</text>
<text x="772.75" y="299.32" font-family="Liberation Sans, sans-serif" font-size="8.90" textLength="23.50" lengthAdjust="spacingAndGlyphs" fill="#404040">-1.23%</text>
<text x="797.75" y="271.32" font-family="Liberation Sans, sans-serif" font-size="8.90" textLength="23.50" lengthAdjust="spacingAndGlyphs" fill="#404040">-0.71%</text>
<text x="822.00" y="300.07" font-family="Liberation Sans, sans-serif" font-size="8.90" textLength="23.75" lengthAdjust="spacingAndGlyphs" fill="#404040">-1.24%</text>
<text x="847.50" y="265.07" font-family="Liberation Sans, sans-serif" font-size="8.90" textLength="23.25" lengthAdjust="spacingAndGlyphs" fill="#404040">-0.59%</text>
<text x="872.00" y="290.57" font-family="Liberation Sans, sans-serif" font-size="8.90" textLength="23.75" lengthAdjust="spacingAndGlyphs" fill="#404040">-1.06%</text>
<text x="897.75" y="264.82" font-family="Liberation Sans, sans-serif" font-size="8.90" textLength="23.50" lengthAdjust="spacingAndGlyphs" fill="#404040">-0.58%</text>
<text x="922.00" y="253.82" font-family="Liberation Sans, sans-serif" font-size="8.90" textLength="23.75" lengthAdjust="spacingAndGlyphs" fill="#404040">-0.37%</text>
<rect x="12.05" y="333.65" width="224.10" height="144.20" fill="url(#pbg)" stroke="#000" stroke-width="2.1"/>
<text x="27.50" y="348.50" font-family="Liberation Sans, sans-serif" font-size="11.45" font-weight="700" textLength="91.75" lengthAdjust="spacingAndGlyphs" fill="#555555">Daily % Change CHF</text>
<path d="M52.0 367.65 L57.0 369.25 L222.0 369.25" fill="none" stroke="#dfdfdf" stroke-width="0.9"/>
<path d="M52.0 388.40 L57.0 390.00 L222.0 390.00" fill="none" stroke="#dfdfdf" stroke-width="0.9"/>
<path d="M52.0 430.90 L57.0 432.50 L222.0 432.50" fill="none" stroke="#dfdfdf" stroke-width="0.9"/>
<path d="M52.0 451.40 L57.0 453.00 L222.0 453.00" fill="none" stroke="#dfdfdf" stroke-width="0.9"/>
<text x="46.30" y="370.61" font-family="Liberation Sans, sans-serif" font-size="9.00" text-anchor="end" textLength="23.22" lengthAdjust="spacingAndGlyphs" fill="#595959">1.00%</text>
<text x="46.30" y="392.61" font-family="Liberation Sans, sans-serif" font-size="9.00" text-anchor="end" textLength="23.22" lengthAdjust="spacingAndGlyphs" fill="#595959">0.50%</text>
<text x="46.30" y="414.36" font-family="Liberation Sans, sans-serif" font-size="9.00" text-anchor="end" textLength="23.22" lengthAdjust="spacingAndGlyphs" fill="#595959">0.00%</text>
<text x="46.30" y="436.11" font-family="Liberation Sans, sans-serif" font-size="9.00" text-anchor="end" textLength="25.95" lengthAdjust="spacingAndGlyphs" fill="#595959">-0.50%</text>
<text x="46.30" y="457.86" font-family="Liberation Sans, sans-serif" font-size="9.00" text-anchor="end" textLength="25.95" lengthAdjust="spacingAndGlyphs" fill="#595959">-1.00%</text>
<rect x="59.00" y="410.50" width="20.00" height="27.97" rx="1.2" ry="1.2" fill="url(#gCHF)"/>
<ellipse cx="69.00" cy="411.00" rx="9.70" ry="1.1" fill="#7fe4ff" opacity="0.75"/>
<rect x="82.75" y="410.50" width="20.00" height="7.48" rx="1.2" ry="1.2" fill="url(#gCHF)"/>
<ellipse cx="92.75" cy="411.00" rx="9.70" ry="1.1" fill="#7fe4ff" opacity="0.75"/>
<rect x="106.00" y="410.50" width="20.00" height="30.58" rx="1.2" ry="1.2" fill="url(#gCHF)"/>
<ellipse cx="116.00" cy="411.00" rx="9.70" ry="1.1" fill="#7fe4ff" opacity="0.75"/>
<rect x="129.25" y="384.78" width="20.00" height="25.72" rx="1.2" ry="1.2" fill="url(#gCHF)"/>
<rect x="152.75" y="410.50" width="20.00" height="21.43" rx="1.2" ry="1.2" fill="url(#gCHF)"/>
<ellipse cx="162.75" cy="411.00" rx="9.70" ry="1.1" fill="#7fe4ff" opacity="0.75"/>
<ellipse cx="186.00" cy="411.40" rx="10.00" ry="1.22" fill="url(#gCHF)" opacity="0.66"/>
<rect x="199.25" y="402.22" width="20.00" height="8.28" rx="1.2" ry="1.2" fill="url(#gCHF)"/>
<path d="M57.0 410.80 L222.0 410.80" fill="none" stroke="#cfcfcf" stroke-width="0.8" opacity="0.7"/>
<text x="67.00" y="468.29" font-family="Liberation Sans, sans-serif" font-size="8.10" text-anchor="middle" textLength="14.54" lengthAdjust="spacingAndGlyphs" fill="#595959">USD</text>
<text x="91.15" y="468.29" font-family="Liberation Sans, sans-serif" font-size="8.10" text-anchor="middle" textLength="14.54" lengthAdjust="spacingAndGlyphs" fill="#595959">EUR</text>
<text x="115.30" y="468.29" font-family="Liberation Sans, sans-serif" font-size="8.10" text-anchor="middle" textLength="14.54" lengthAdjust="spacingAndGlyphs" fill="#595959">GBP</text>
<text x="139.45" y="468.29" font-family="Liberation Sans, sans-serif" font-size="8.10" text-anchor="middle" textLength="12.63" lengthAdjust="spacingAndGlyphs" fill="#595959">JPY</text>
<text x="163.60" y="468.29" font-family="Liberation Sans, sans-serif" font-size="8.10" text-anchor="middle" textLength="14.54" lengthAdjust="spacingAndGlyphs" fill="#595959">CAD</text>
<text x="187.75" y="468.29" font-family="Liberation Sans, sans-serif" font-size="8.10" text-anchor="middle" textLength="14.54" lengthAdjust="spacingAndGlyphs" fill="#595959">AUD</text>
<text x="211.90" y="468.29" font-family="Liberation Sans, sans-serif" font-size="8.10" text-anchor="middle" textLength="14.15" lengthAdjust="spacingAndGlyphs" fill="#595959">NZD</text>
<text x="52.00" y="453.01" font-family="Liberation Sans, sans-serif" font-size="10.90" textLength="30.50" lengthAdjust="spacingAndGlyphs" fill="#505050">-0.63%</text>
<text x="75.75" y="433.01" font-family="Liberation Sans, sans-serif" font-size="10.90" textLength="30.50" lengthAdjust="spacingAndGlyphs" fill="#505050">-0.16%</text>
<text x="100.00" y="455.51" font-family="Liberation Sans, sans-serif" font-size="10.90" textLength="30.50" lengthAdjust="spacingAndGlyphs" fill="#505050">-0.69%</text>
<text x="125.00" y="378.76" font-family="Liberation Sans, sans-serif" font-size="10.90" textLength="28.00" lengthAdjust="spacingAndGlyphs" fill="#505050">0.59%</text>
<text x="148.00" y="447.01" font-family="Liberation Sans, sans-serif" font-size="10.90" textLength="30.75" lengthAdjust="spacingAndGlyphs" fill="#505050">-0.48%</text>
<text x="173.25" y="426.76" font-family="Liberation Sans, sans-serif" font-size="10.90" textLength="28.75" lengthAdjust="spacingAndGlyphs" fill="#505050">-0.02%</text>
<text x="197.50" y="395.01" font-family="Liberation Sans, sans-serif" font-size="10.90" textLength="27.00" lengthAdjust="spacingAndGlyphs" fill="#505050">0.19%</text>
<rect x="249.00" y="333.90" width="227.60" height="141.70" fill="url(#pbg)" stroke="#000" stroke-width="1.8"/>
<text x="264.50" y="348.75" font-family="Liberation Sans, sans-serif" font-size="10.87" font-weight="700" textLength="93.00" lengthAdjust="spacingAndGlyphs" fill="#555555">Daily % Change CAD</text>
<path d="M285.0 367.90 L290.0 369.50 L458.0 369.50" fill="none" stroke="#dfdfdf" stroke-width="0.9"/>
<path d="M285.0 380.70 L290.0 382.30 L458.0 382.30" fill="none" stroke="#dfdfdf" stroke-width="0.9"/>
<path d="M285.0 393.50 L290.0 395.10 L458.0 395.10" fill="none" stroke="#dfdfdf" stroke-width="0.9"/>
<path d="M285.0 406.30 L290.0 407.90 L458.0 407.90" fill="none" stroke="#dfdfdf" stroke-width="0.9"/>
<path d="M285.0 419.10 L290.0 420.70 L458.0 420.70" fill="none" stroke="#dfdfdf" stroke-width="0.9"/>
<path d="M285.0 431.90 L290.0 433.50 L458.0 433.50" fill="none" stroke="#dfdfdf" stroke-width="0.9"/>
<path d="M285.0 456.90 L290.0 458.50 L458.0 458.50" fill="none" stroke="#dfdfdf" stroke-width="0.9"/>
<text x="279.00" y="371.15" font-family="Liberation Sans, sans-serif" font-size="8.40" text-anchor="end" textLength="21.67" lengthAdjust="spacingAndGlyphs" fill="#595959">1.20%</text>
<text x="279.00" y="383.90" font-family="Liberation Sans, sans-serif" font-size="8.40" text-anchor="end" textLength="21.67" lengthAdjust="spacingAndGlyphs" fill="#595959">1.00%</text>
<text x="279.00" y="396.65" font-family="Liberation Sans, sans-serif" font-size="8.40" text-anchor="end" textLength="21.67" lengthAdjust="spacingAndGlyphs" fill="#595959">0.80%</text>
<text x="279.00" y="409.65" font-family="Liberation Sans, sans-serif" font-size="8.40" text-anchor="end" textLength="21.67" lengthAdjust="spacingAndGlyphs" fill="#595959">0.60%</text>
<text x="279.00" y="422.40" font-family="Liberation Sans, sans-serif" font-size="8.40" text-anchor="end" textLength="21.67" lengthAdjust="spacingAndGlyphs" fill="#595959">0.40%</text>
<text x="279.00" y="434.90" font-family="Liberation Sans, sans-serif" font-size="8.40" text-anchor="end" textLength="21.67" lengthAdjust="spacingAndGlyphs" fill="#595959">0.20%</text>
<text x="279.00" y="447.90" font-family="Liberation Sans, sans-serif" font-size="8.40" text-anchor="end" textLength="21.67" lengthAdjust="spacingAndGlyphs" fill="#595959">0.00%</text>
<text x="279.00" y="460.65" font-family="Liberation Sans, sans-serif" font-size="8.40" text-anchor="end" textLength="24.22" lengthAdjust="spacingAndGlyphs" fill="#595959">-0.20%</text>
<rect x="291.75" y="444.30" width="20.50" height="11.93" rx="1.2" ry="1.2" fill="url(#gCAD)"/>
<ellipse cx="302.00" cy="444.80" rx="9.95" ry="1.1" fill="#cfe8bf" opacity="0.75"/>
<rect x="315.75" y="421.44" width="20.50" height="22.86" rx="1.2" ry="1.2" fill="url(#gCAD)"/>
<rect x="340.00" y="444.30" width="20.50" height="10.03" rx="1.2" ry="1.2" fill="url(#gCAD)"/>
<ellipse cx="350.25" cy="444.80" rx="9.95" ry="1.1" fill="#cfe8bf" opacity="0.75"/>
<rect x="364.10" y="376.99" width="20.50" height="67.31" rx="1.2" ry="1.2" fill="url(#gCAD)"/>
<rect x="388.00" y="413.82" width="20.50" height="30.48" rx="1.2" ry="1.2" fill="url(#gCAD)"/>
<rect x="412.00" y="413.19" width="20.50" height="31.11" rx="1.2" ry="1.2" fill="url(#gCAD)"/>
<rect x="435.90" y="400.49" width="20.50" height="43.81" rx="1.2" ry="1.2" fill="url(#gCAD)"/>
<path d="M290.0 444.60 L458.0 444.60" fill="none" stroke="#cfcfcf" stroke-width="0.8" opacity="0.7"/>
<text x="299.90" y="471.04" font-family="Liberation Sans, sans-serif" font-size="8.10" text-anchor="middle" textLength="14.54" lengthAdjust="spacingAndGlyphs" fill="#595959">USD</text>
<text x="324.65" y="471.04" font-family="Liberation Sans, sans-serif" font-size="8.10" text-anchor="middle" textLength="14.54" lengthAdjust="spacingAndGlyphs" fill="#595959">EUR</text>
<text x="349.40" y="471.04" font-family="Liberation Sans, sans-serif" font-size="8.10" text-anchor="middle" textLength="14.54" lengthAdjust="spacingAndGlyphs" fill="#595959">GBP</text>
<text x="374.15" y="471.04" font-family="Liberation Sans, sans-serif" font-size="8.10" text-anchor="middle" textLength="12.63" lengthAdjust="spacingAndGlyphs" fill="#595959">JPY</text>
<text x="398.90" y="471.04" font-family="Liberation Sans, sans-serif" font-size="8.10" text-anchor="middle" textLength="14.15" lengthAdjust="spacingAndGlyphs" fill="#595959">CHF</text>
<text x="423.65" y="471.04" font-family="Liberation Sans, sans-serif" font-size="8.10" text-anchor="middle" textLength="14.54" lengthAdjust="spacingAndGlyphs" fill="#595959">AUD</text>
<text x="448.40" y="471.04" font-family="Liberation Sans, sans-serif" font-size="8.10" text-anchor="middle" textLength="14.15" lengthAdjust="spacingAndGlyphs" fill="#595959">NZD</text>
<text x="288.25" y="467.76" font-family="Liberation Sans, sans-serif" font-size="8.00" textLength="23.50" lengthAdjust="spacingAndGlyphs" fill="#404040">-0.18%</text>
<text x="314.50" y="415.76" font-family="Liberation Sans, sans-serif" font-size="8.00" textLength="20.50" lengthAdjust="spacingAndGlyphs" fill="#404040">0.36%</text>
<text x="338.25" y="466.51" font-family="Liberation Sans, sans-serif" font-size="8.00" textLength="23.00" lengthAdjust="spacingAndGlyphs" fill="#404040">-0.15%</text>
<text x="364.25" y="371.01" font-family="Liberation Sans, sans-serif" font-size="8.00" textLength="20.25" lengthAdjust="spacingAndGlyphs" fill="#404040">1.06%</text>
<text x="388.75" y="407.76" font-family="Liberation Sans, sans-serif" font-size="8.00" textLength="20.00" lengthAdjust="spacingAndGlyphs" fill="#404040">0.48%</text>
<text x="413.00" y="407.26" font-family="Liberation Sans, sans-serif" font-size="8.00" textLength="20.25" lengthAdjust="spacingAndGlyphs" fill="#404040">0.49%</text>
<text x="437.50" y="394.51" font-family="Liberation Sans, sans-serif" font-size="8.00" textLength="20.50" lengthAdjust="spacingAndGlyphs" fill="#404040">0.69%</text>
<rect x="489.90" y="334.80" width="226.90" height="141.90" fill="url(#pbg)" stroke="#000" stroke-width="1.8"/>
<text x="506.25" y="350.00" font-family="Liberation Sans, sans-serif" font-size="10.87" font-weight="700" textLength="94.25" lengthAdjust="spacingAndGlyphs" fill="#555555">Daily % Change AUD</text>
<path d="M531.0 368.60 L536.0 370.20 L702.0 370.20" fill="none" stroke="#dfdfdf" stroke-width="0.9"/>
<path d="M531.0 389.70 L536.0 391.30 L702.0 391.30" fill="none" stroke="#dfdfdf" stroke-width="0.9"/>
<path d="M531.0 430.80 L536.0 432.40 L702.0 432.40" fill="none" stroke="#dfdfdf" stroke-width="0.9"/>
<path d="M531.0 450.90 L536.0 452.50 L702.0 452.50" fill="none" stroke="#dfdfdf" stroke-width="0.9"/>
<text x="524.70" y="371.82" font-family="Liberation Sans, sans-serif" font-size="8.90" text-anchor="end" textLength="22.96" lengthAdjust="spacingAndGlyphs" fill="#595959">1.00%</text>
<text x="524.70" y="393.57" font-family="Liberation Sans, sans-serif" font-size="8.90" text-anchor="end" textLength="22.96" lengthAdjust="spacingAndGlyphs" fill="#595959">0.50%</text>
<text x="524.70" y="414.82" font-family="Liberation Sans, sans-serif" font-size="8.90" text-anchor="end" textLength="22.96" lengthAdjust="spacingAndGlyphs" fill="#595959">0.00%</text>
<text x="524.70" y="436.07" font-family="Liberation Sans, sans-serif" font-size="8.90" text-anchor="end" textLength="25.66" lengthAdjust="spacingAndGlyphs" fill="#595959">-0.50%</text>
<text x="524.70" y="457.32" font-family="Liberation Sans, sans-serif" font-size="8.90" text-anchor="end" textLength="25.66" lengthAdjust="spacingAndGlyphs" fill="#595959">-1.00%</text>
<rect x="538.00" y="411.20" width="20.00" height="26.58" rx="1.2" ry="1.2" fill="url(#gAUD)"/>
<ellipse cx="548.00" cy="411.70" rx="9.70" ry="1.1" fill="#6a6aff" opacity="0.75"/>
<rect x="561.75" y="411.20" width="20.00" height="5.63" rx="1.2" ry="1.2" fill="url(#gAUD)"/>
<ellipse cx="571.75" cy="411.70" rx="9.70" ry="1.1" fill="#6a6aff" opacity="0.75"/>
<rect x="585.00" y="411.20" width="20.00" height="28.71" rx="1.2" ry="1.2" fill="url(#gAUD)"/>
<ellipse cx="595.00" cy="411.70" rx="9.70" ry="1.1" fill="#6a6aff" opacity="0.75"/>
<rect x="608.75" y="386.40" width="20.00" height="24.79" rx="1.2" ry="1.2" fill="url(#gAUD)"/>
<ellipse cx="642.50" cy="410.60" rx="10.00" ry="0.98" fill="url(#gAUD)" opacity="0.51"/>
<rect x="655.75" y="411.20" width="20.00" height="21.45" rx="1.2" ry="1.2" fill="url(#gAUD)"/>
<ellipse cx="665.75" cy="411.70" rx="9.70" ry="1.1" fill="#6a6aff" opacity="0.75"/>
<rect x="679.40" y="401.80" width="20.00" height="9.40" rx="1.2" ry="1.2" fill="url(#gAUD)"/>
<path d="M536.0 411.50 L702.0 411.50" fill="none" stroke="#cfcfcf" stroke-width="0.8" opacity="0.7"/>
<text x="545.90" y="467.79" font-family="Liberation Sans, sans-serif" font-size="8.10" text-anchor="middle" textLength="14.54" lengthAdjust="spacingAndGlyphs" fill="#595959">USD</text>
<text x="570.20" y="467.79" font-family="Liberation Sans, sans-serif" font-size="8.10" text-anchor="middle" textLength="14.54" lengthAdjust="spacingAndGlyphs" fill="#595959">EUR</text>
<text x="594.50" y="467.79" font-family="Liberation Sans, sans-serif" font-size="8.10" text-anchor="middle" textLength="14.54" lengthAdjust="spacingAndGlyphs" fill="#595959">GBP</text>
<text x="618.80" y="467.79" font-family="Liberation Sans, sans-serif" font-size="8.10" text-anchor="middle" textLength="12.63" lengthAdjust="spacingAndGlyphs" fill="#595959">JPY</text>
<text x="643.10" y="467.79" font-family="Liberation Sans, sans-serif" font-size="8.10" text-anchor="middle" textLength="14.15" lengthAdjust="spacingAndGlyphs" fill="#595959">CHF</text>
<text x="667.40" y="467.79" font-family="Liberation Sans, sans-serif" font-size="8.10" text-anchor="middle" textLength="14.54" lengthAdjust="spacingAndGlyphs" fill="#595959">CAD</text>
<text x="691.70" y="467.79" font-family="Liberation Sans, sans-serif" font-size="8.10" text-anchor="middle" textLength="14.15" lengthAdjust="spacingAndGlyphs" fill="#595959">NZD</text>
<text x="531.25" y="452.51" font-family="Liberation Sans, sans-serif" font-size="10.90" textLength="30.75" lengthAdjust="spacingAndGlyphs" fill="#505050">-0.61%</text>
<text x="554.50" y="431.26" font-family="Liberation Sans, sans-serif" font-size="10.90" textLength="30.50" lengthAdjust="spacingAndGlyphs" fill="#505050">-0.12%</text>
<text x="579.50" y="454.26" font-family="Liberation Sans, sans-serif" font-size="10.90" textLength="30.50" lengthAdjust="spacingAndGlyphs" fill="#505050">-0.66%</text>
<text x="604.50" y="379.51" font-family="Liberation Sans, sans-serif" font-size="10.90" textLength="27.50" lengthAdjust="spacingAndGlyphs" fill="#505050">0.58%</text>
<text x="629.25" y="403.76" font-family="Liberation Sans, sans-serif" font-size="10.90" textLength="27.50" lengthAdjust="spacingAndGlyphs" fill="#505050">0.02%</text>
<text x="651.75" y="446.76" font-family="Liberation Sans, sans-serif" font-size="10.90" textLength="30.75" lengthAdjust="spacingAndGlyphs" fill="#505050">-0.49%</text>
<text x="677.50" y="395.51" font-family="Liberation Sans, sans-serif" font-size="10.90" textLength="27.50" lengthAdjust="spacingAndGlyphs" fill="#505050">0.22%</text>
<rect x="728.20" y="334.70" width="231.80" height="142.80" fill="url(#pbg)" stroke="#000" stroke-width="2.0"/>
<text x="744.50" y="349.25" font-family="Liberation Sans, sans-serif" font-size="10.87" font-weight="700" textLength="93.75" lengthAdjust="spacingAndGlyphs" fill="#555555">Daily % Change NZD</text>
<path d="M770.0 367.90 L775.0 369.50 L945.0 369.50" fill="none" stroke="#dfdfdf" stroke-width="0.9"/>
<path d="M770.0 424.40 L775.0 426.00 L945.0 426.00" fill="none" stroke="#dfdfdf" stroke-width="0.9"/>
<path d="M770.0 451.40 L775.0 453.00 L945.0 453.00" fill="none" stroke="#dfdfdf" stroke-width="0.9"/>
<text x="762.60" y="371.11" font-family="Liberation Sans, sans-serif" font-size="9.00" text-anchor="end" textLength="23.22" lengthAdjust="spacingAndGlyphs" fill="#595959">0.50%</text>
<text x="762.60" y="400.11" font-family="Liberation Sans, sans-serif" font-size="9.00" text-anchor="end" textLength="23.22" lengthAdjust="spacingAndGlyphs" fill="#595959">0.00%</text>
<text x="762.60" y="429.36" font-family="Liberation Sans, sans-serif" font-size="9.00" text-anchor="end" textLength="25.95" lengthAdjust="spacingAndGlyphs" fill="#595959">-0.50%</text>
<text x="762.60" y="458.11" font-family="Liberation Sans, sans-serif" font-size="9.00" text-anchor="end" textLength="25.95" lengthAdjust="spacingAndGlyphs" fill="#595959">-1.00%</text>
<rect x="776.50" y="396.50" width="20.40" height="49.22" rx="1.2" ry="1.2" fill="url(#gNZD)"/>
<ellipse cx="786.70" cy="397.00" rx="9.90" ry="1.1" fill="#ffb4b4" opacity="0.75"/>
<rect x="801.00" y="396.50" width="20.40" height="21.38" rx="1.2" ry="1.2" fill="url(#gNZD)"/>
<ellipse cx="811.20" cy="397.00" rx="9.90" ry="1.1" fill="#ffb4b4" opacity="0.75"/>
<rect x="825.00" y="396.50" width="20.40" height="52.12" rx="1.2" ry="1.2" fill="url(#gNZD)"/>
<ellipse cx="835.20" cy="397.00" rx="9.90" ry="1.1" fill="#ffb4b4" opacity="0.75"/>
<rect x="849.30" y="375.04" width="20.40" height="21.46" rx="1.2" ry="1.2" fill="url(#gNZD)"/>
<rect x="873.30" y="396.50" width="20.40" height="11.52" rx="1.2" ry="1.2" fill="url(#gNZD)"/>
<ellipse cx="883.50" cy="397.00" rx="9.90" ry="1.1" fill="#ffb4b4" opacity="0.75"/>
<rect x="897.80" y="396.50" width="20.40" height="40.52" rx="1.2" ry="1.2" fill="url(#gNZD)"/>
<ellipse cx="908.00" cy="397.00" rx="9.90" ry="1.1" fill="#ffb4b4" opacity="0.75"/>
<rect x="922.10" y="396.50" width="20.40" height="13.26" rx="1.2" ry="1.2" fill="url(#gNZD)"/>
<ellipse cx="932.30" cy="397.00" rx="9.90" ry="1.1" fill="#ffb4b4" opacity="0.75"/>
<path d="M775.0 396.80 L945.0 396.80" fill="none" stroke="#cfcfcf" stroke-width="0.8" opacity="0.7"/>
<text x="784.25" y="468.61" font-family="Liberation Sans, sans-serif" font-size="8.30" text-anchor="middle" textLength="14.90" lengthAdjust="spacingAndGlyphs" fill="#595959">USD</text>
<text x="809.25" y="468.61" font-family="Liberation Sans, sans-serif" font-size="8.30" text-anchor="middle" textLength="14.90" lengthAdjust="spacingAndGlyphs" fill="#595959">EUR</text>
<text x="834.25" y="468.61" font-family="Liberation Sans, sans-serif" font-size="8.30" text-anchor="middle" textLength="14.90" lengthAdjust="spacingAndGlyphs" fill="#595959">GBP</text>
<text x="859.25" y="468.61" font-family="Liberation Sans, sans-serif" font-size="8.30" text-anchor="middle" textLength="12.94" lengthAdjust="spacingAndGlyphs" fill="#595959">JPY</text>
<text x="884.25" y="468.61" font-family="Liberation Sans, sans-serif" font-size="8.30" text-anchor="middle" textLength="14.50" lengthAdjust="spacingAndGlyphs" fill="#595959">CHF</text>
<text x="909.25" y="468.61" font-family="Liberation Sans, sans-serif" font-size="8.30" text-anchor="middle" textLength="14.90" lengthAdjust="spacingAndGlyphs" fill="#595959">CAD</text>
<text x="934.25" y="468.61" font-family="Liberation Sans, sans-serif" font-size="8.30" text-anchor="middle" textLength="14.90" lengthAdjust="spacingAndGlyphs" fill="#595959">AUD</text>
<text x="770.75" y="460.01" font-family="Liberation Sans, sans-serif" font-size="10.90" textLength="28.75" lengthAdjust="spacingAndGlyphs" fill="#505050">-0.84%</text>
<text x="795.25" y="432.01" font-family="Liberation Sans, sans-serif" font-size="10.90" textLength="29.25" lengthAdjust="spacingAndGlyphs" fill="#505050">-0.36%</text>
<text x="820.25" y="463.01" font-family="Liberation Sans, sans-serif" font-size="10.90" textLength="29.25" lengthAdjust="spacingAndGlyphs" fill="#505050">-0.89%</text>
<text x="846.25" y="369.26" font-family="Liberation Sans, sans-serif" font-size="10.90" textLength="26.25" lengthAdjust="spacingAndGlyphs" fill="#505050">0.37%</text>
<text x="869.50" y="422.51" font-family="Liberation Sans, sans-serif" font-size="10.90" textLength="28.75" lengthAdjust="spacingAndGlyphs" fill="#505050">-0.19%</text>
<text x="894.00" y="451.26" font-family="Liberation Sans, sans-serif" font-size="10.90" textLength="29.25" lengthAdjust="spacingAndGlyphs" fill="#505050">-0.69%</text>
<text x="919.50" y="424.26" font-family="Liberation Sans, sans-serif" font-size="10.90" textLength="28.75" lengthAdjust="spacingAndGlyphs" fill="#505050">-0.22%</text>
<text x="919.90" y="489.40" font-family="Liberation Sans, sans-serif" font-size="8.90" textLength="36.70" lengthAdjust="spacingAndGlyphs" fill="#333" stroke="#333" stroke-width="0.3" stroke-linejoin="round" paint-order="stroke">16:23:05</text>
</g>
</svg>
</body></html>
